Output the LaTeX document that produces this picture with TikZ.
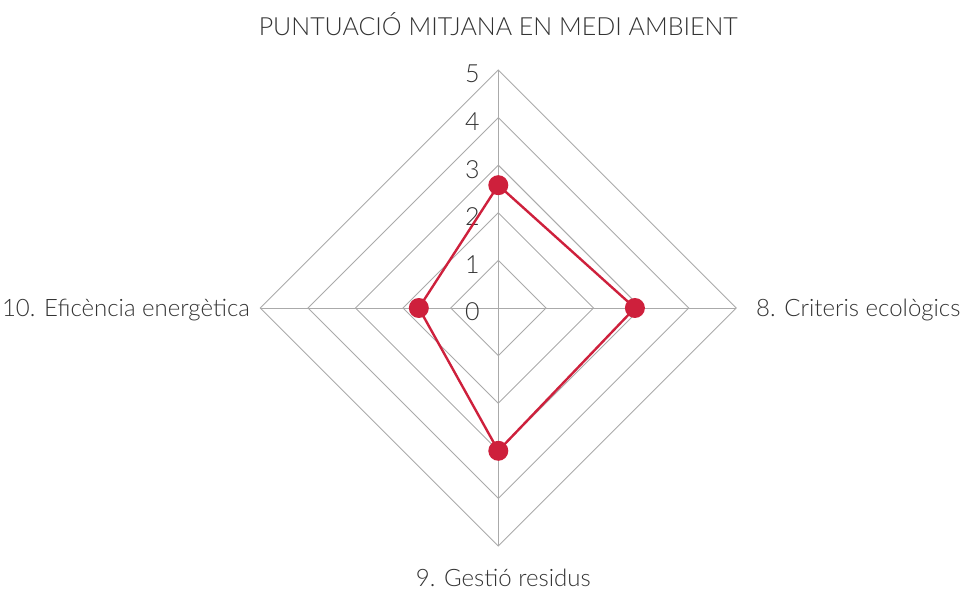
\documentclass[tikz,border=0pt]{standalone}
\usepackage{fontspec}
\setmainfont{Lato}[UprightFont=* Light]
\definecolor{gridgray}{RGB}{170,170,170}
\definecolor{datared}{RGB}{206,32,60}
\definecolor{txt}{RGB}{51,51,51}
\begin{document}
\begin{tikzpicture}[x=1pt,y=1pt,
  gridline/.style={draw=gridgray,line width=0.9pt},
  dataline/.style={draw=datared,line width=2.4pt,line join=round},
  datadot/.style={circle,fill=datared,inner sep=0pt,minimum size=20pt},
  ticklbl/.style={text=txt,font=\fontsize{25}{25}\selectfont,inner sep=0pt},
  axislbl/.style={text=txt,font=\fontsize{24}{24}\selectfont,inner sep=0pt},
  titlelbl/.style={text=txt,font=\fontsize{25}{25}\selectfont,inner sep=0pt}]
\useasboundingbox (0,0) rectangle (971,591);
\def\cx{498.3}\def\cy{283}\def\u{47.6}
\coordinate (c) at (\cx,\cy);
% rings
\foreach \r in {1,...,5}{
  \draw[gridline] (\cx,\cy+\r*\u) -- (\cx+\r*\u,\cy) -- (\cx,\cy-\r*\u) -- (\cx-\r*\u,\cy) -- cycle;
}
\coordinate (top) at (\cx,\cy+5*\u);
\coordinate (bot) at (\cx,\cy-5*\u);
\coordinate (lft) at (\cx-5*\u,\cy);
\coordinate (rgt) at (\cx+5*\u,\cy);
\draw[gridline] (top) -- (bot);
\draw[gridline] (lft) -- (rgt);
% tick labels
\foreach \r in {0,...,5}{
  \node[ticklbl] (t\r) at (\cx-26,\cy+\r*\u-4) {\r};
}
% data
\coordinate (p1) at (\cx,\cy+2.58*\u);
\coordinate (p2) at (\cx+2.87*\u,\cy);
\coordinate (p3) at (\cx,\cy-3.0*\u);
\coordinate (p4) at (\cx-1.67*\u,\cy);
\draw[dataline] (p1) -- (p2) -- (p3) -- (p4) -- cycle;
\foreach \p in {p1,p2,p3,p4}{ \node[datadot] at (\p) {}; }
% axis labels
\node[axislbl,anchor=west] (l8) at (756,281) {8. Criteris ecològics};
\node[axislbl,anchor=east] (l10) at (250,281) {10. Eficència energètica};
\node[axislbl] (l9) at (\cx+5,13) {9. Gestió residus};
\node[titlelbl] (ttl) at (\cx,567) {PUNTUACIÓ MITJANA EN MEDI AMBIENT};
\end{tikzpicture}
\end{document}
